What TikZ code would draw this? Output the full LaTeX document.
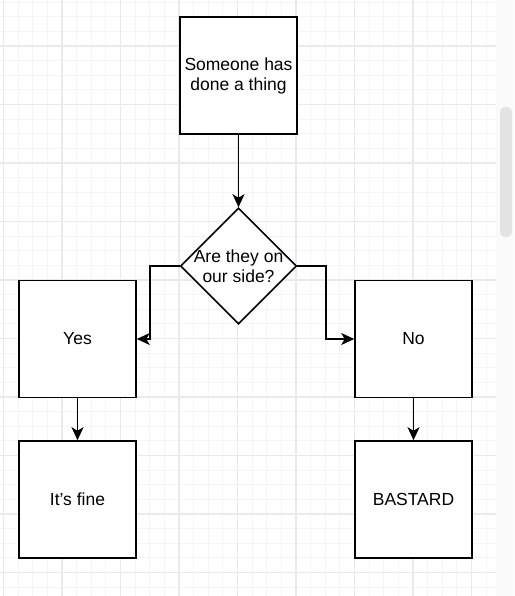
\documentclass[tikz,border=0pt]{standalone}
\usepackage{fontspec}
\setmainfont{Liberation Sans}
\usetikzlibrary{shapes.geometric,arrows.meta}
\definecolor{gridminor}{RGB}{245,245,248}
\definecolor{gridmajor}{RGB}{234,234,238}
\begin{document}
\begin{tikzpicture}[x=1pt,y=-1pt,
  box/.style={draw,line width=1.6pt,fill=white,minimum size=117pt,inner sep=0pt,align=center,font=\fontsize{17.5}{20}\selectfont},
  choice/.style={draw,diamond,line width=1.6pt,fill=white,minimum size=116pt,inner sep=-16pt,align=center,font=\fontsize{17.5}{20}\selectfont},
  arr/.style={-{Stealth[length=13pt,width=12pt,inset=3.5pt]},line width=1.7pt}]

% background grid and scroll bar
\fill[white] (0,0) rectangle (514,596);
\useasboundingbox (0,0) rectangle (514,596);
\begin{scope}
\clip (0,0) rectangle (496,596);
\foreach \i in {0,...,34} \draw[gridminor,line width=1pt] ({3.5+14.625*\i},0) -- ++(0,596);
\foreach \i in {1,...,41} \draw[gridminor,line width=1pt] (0,{-12.5+14.625*\i}) -- ++(496,0);
\foreach \i in {0,...,8} \draw[gridmajor,line width=1.3pt] ({3.5+58.5*\i},0) -- ++(0,596);
\foreach \i in {0,...,9} \draw[gridmajor,line width=1.3pt] (0,{46+58.5*\i}) -- ++(496,0);
\end{scope}
\fill[gray!4] (496,0) rectangle (514,596);
\fill[gray!22,rounded corners=5pt] (500,107) rectangle (512,237);

\node[box] (thing) at (238.5,75.5) {Someone has\\done a thing};
\node[choice] (side) at (238.5,266) {Are they on\\our side?};
\node[box] (yes) at (77.5,339) {Yes};
\node[box] (no) at (413.5,339) {No};
\node[box] (fine) at (77.5,499.5) {It’s fine};
\node[box] (bastard) at (413.5,499.5) {BASTARD};

\draw[arr] (thing) -- (side);
\draw[arr] (side.west) -- ++(-30,0) |- (yes.east);
\draw[arr] (side.east) -- ++(29,0) |- (no.west);
\draw[arr] (yes) -- (fine);
\draw[arr] (no) -- (bastard);

\end{tikzpicture}
\end{document}
